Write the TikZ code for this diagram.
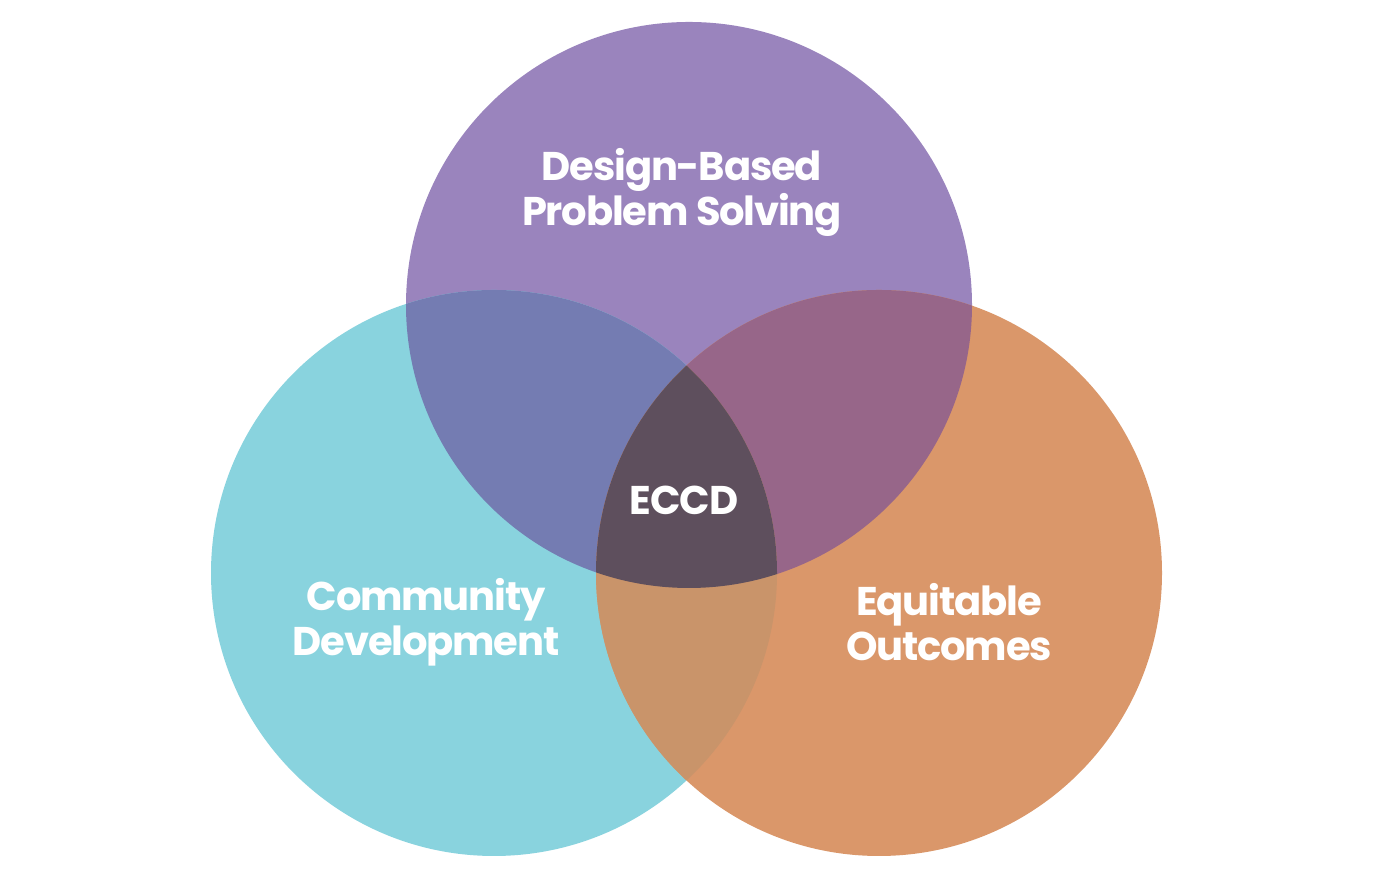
\documentclass[tikz,border=0pt]{standalone}
\usepackage{fontspec}
\newfontfamily\vennfont[LetterSpace=-3]{Poppins}
\definecolor{vpurple}{HTML}{9A84BD}
\definecolor{vcyan}{HTML}{89D3DE}
\definecolor{vorange}{HTML}{DA976A}
\definecolor{vpurcyan}{HTML}{747CB2}
\definecolor{vpurorange}{HTML}{976689}
\definecolor{vcyanorange}{HTML}{C9946A}
\definecolor{vcore}{HTML}{5E4F5D}
\begin{document}
\begin{tikzpicture}
\tikzset{every node/.style={text=white,align=center,
         font=\vennfont\bfseries\fontsize{11.4}{12.8}\selectfont}}
\useasboundingbox (0,0) rectangle (14,8.87);
\def\rad{2.83}
\coordinate (top) at (6.89,5.82);
\coordinate (left) at (4.94,3.14);
\coordinate (right) at (8.79,3.14);
% circles
\fill[vpurple] (top) circle (\rad);
\fill[vcyan] (left) circle (\rad);
\fill[vorange] (right) circle (\rad);
% overlaps
\begin{scope}
  \clip (top) circle (\rad);
  \fill[vpurcyan] (left) circle (\rad);
  \fill[vpurorange] (right) circle (\rad);
\end{scope}
\begin{scope}
  \clip (left) circle (\rad);
  \fill[vcyanorange] (right) circle (\rad);
  \clip (right) circle (\rad);
  \fill[vcore] (top) circle (\rad);
\end{scope}
% labels
\node (design) at (6.82,6.95) {Design-Based\\Problem Solving};
\node (core) at (6.84,3.87) {ECCD};
\node (community) at (4.26,2.65) {Community\\Development};
\node (equity) at (9.49,2.65) {Equitable\\Outcomes};
\end{tikzpicture}
\end{document}
